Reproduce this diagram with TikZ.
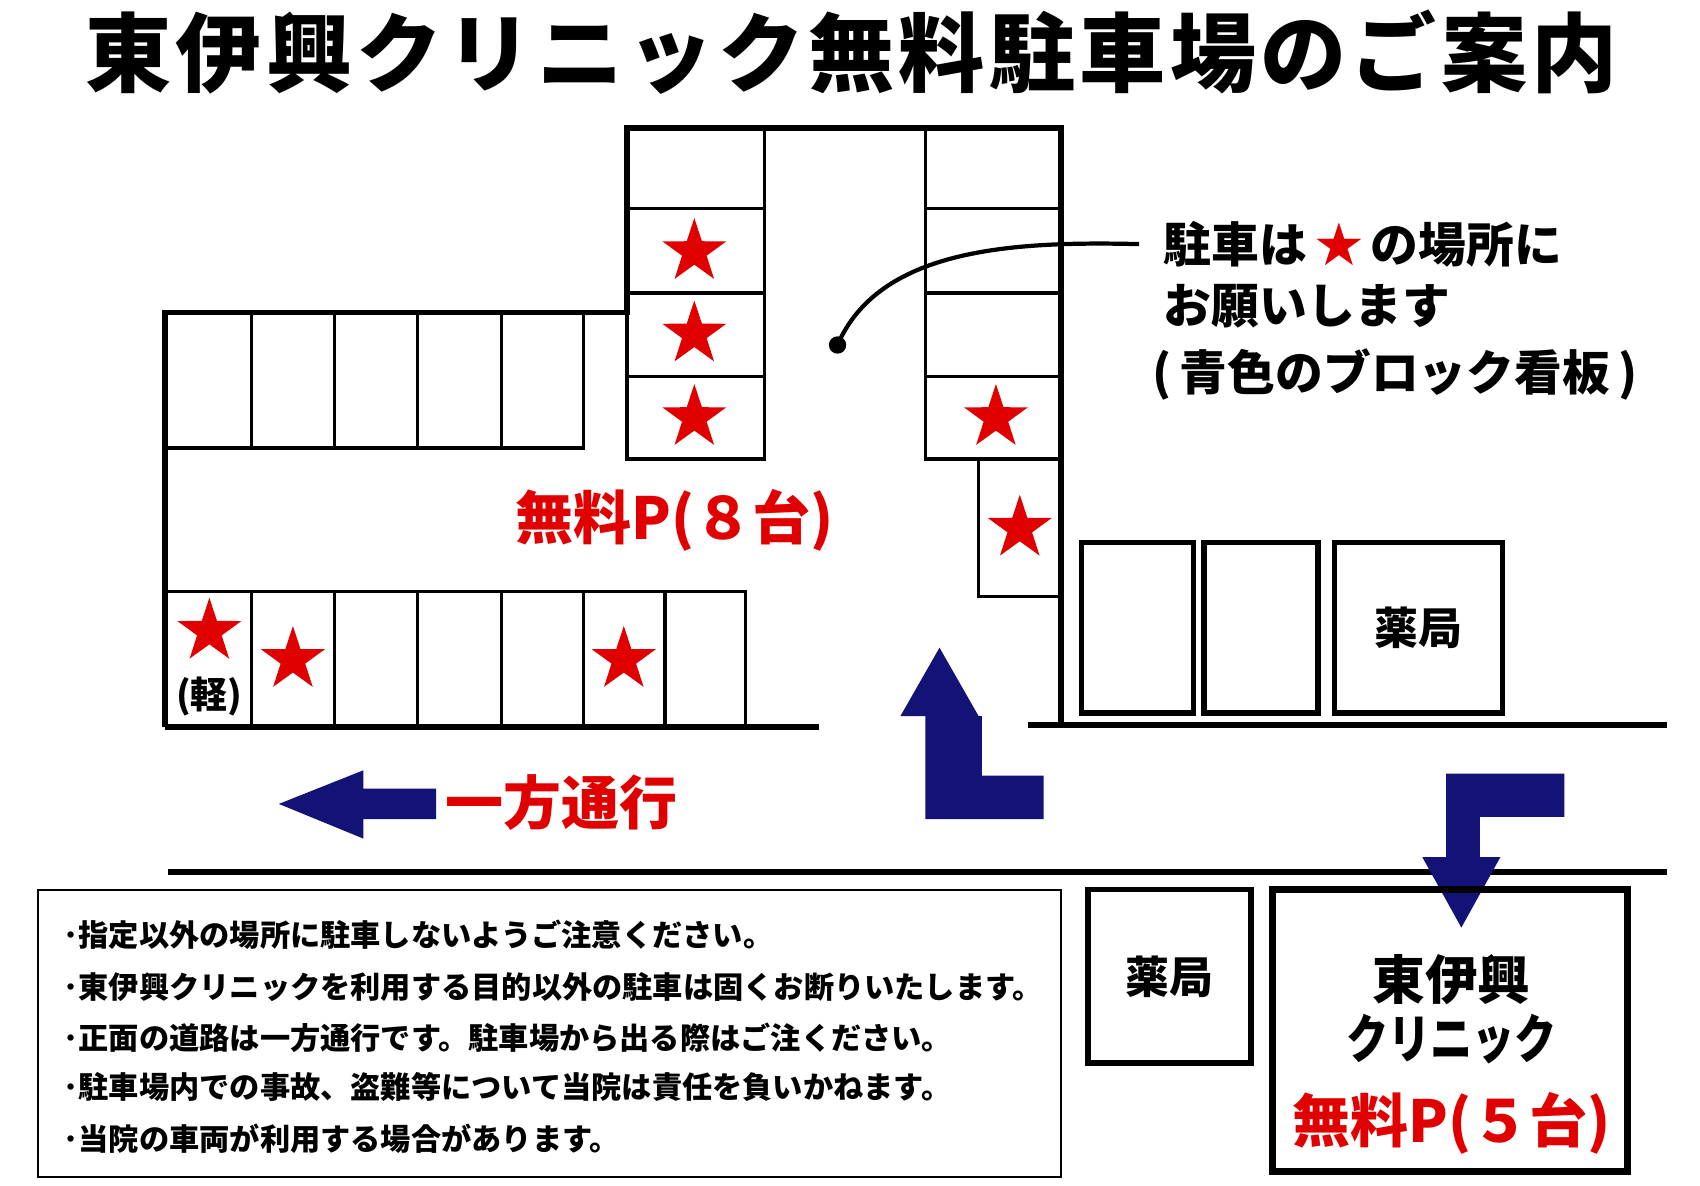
\documentclass[tikz,border=0pt]{standalone}
\usepackage{fontspec}
\setmainfont{Noto Sans CJK JP}
\newfontfamily\jp{Noto Sans CJK JP}
\newfontfamily\jpwide{Noto Sans CJK JP}[LetterSpace=5]
\usetikzlibrary{shapes.geometric}
\definecolor{navy}{HTML}{131277}
\definecolor{rd}{HTML}{E00000}
\tikzset{
 thick line/.style={line width=1.6pt},
 thin line/.style={line width=0.9pt},
 redstar/.style={star,star points=5,star point ratio=2.6,fill=rd,inner sep=0pt,minimum size=62*0.1085mm},
 arrowfill/.style={fill=navy},
 lbl/.style={font=\jp\bfseries\fontsize{13.6}{16}\selectfont,anchor=west,inner sep=0pt},
 note/.style={font=\jp\bfseries\fontsize{8.6}{10}\selectfont,anchor=west,inner sep=0pt},
 free/.style={font=\jp\bfseries\fontsize{16.5}{18}\selectfont,text=rd,inner sep=0pt},
}
\begin{document}
\begin{tikzpicture}[x=0.1085mm,y=-0.1085mm]
\useasboundingbox (0,0) rectangle (1567,1093);
\node[font=\jpwide\bfseries\fontsize{24.5}{26}\selectfont] (title) at (785,48) {東伊興クリニック無料駐車場のご案内};
% outline
\draw[thick line] (152,670) -- (152,288) -- (578,288) -- (578,118) -- (978,118) -- (978,668);
\draw[thick line] (152,670) -- (755,670);
% top-left column
\draw[thin line] (705,118) -- (705,423) -- (578,423) -- (578,288);
\foreach \y in {192,270,347} \draw[thin line] (578,\y) -- (705,\y);
% right column
\draw[thin line] (853,118) -- (853,423) -- (978,423);
\foreach \y in {192,270,347} \draw[thin line] (853,\y) -- (978,\y);
\draw[thin line] (902,423) -- (902,550) -- (978,550);
% top row
\draw[thin line] (152,413) -- (538,413) -- (538,288);
\foreach \x in {232,308,385,462} \draw[thin line] (\x,288) -- (\x,413);
% bottom row
\draw[thin line] (152,545) -- (687,545) -- (687,670);
\foreach \x in {232,308,385,462,538,613} \draw[thin line] (\x,545) -- (\x,670);
% stars
\foreach \p/\n in {{(640,232)}/s1,{(640,308)}/s2,{(640,385)}/s3,{(918,385)}/s4,{(940,487)}/s5,{(193,582)}/s6,{(270,608)}/s7,{(575,608)}/s8}
  \node[redstar] (\n) at \p {};
\node[font=\jp\bfseries\fontsize{10.5}{12}\selectfont,inner sep=0pt] (kei) at (193,642) {(軽)};
\node[free] (free8) at (622,480) {無料P(８台)};
% leader
\fill (772,318) circle (8) coordinate (dot);
\coordinate (lend) at (1050,225);
\draw[line width=1.2pt] (dot) .. controls (810,230) and (930,222) .. (lend);
\node[lbl] (l1) at (1072,225) {駐車は\,\textcolor{rd}{★}\,の場所に};
\node[lbl] (l2) at (1072,282) {お願いします};
\node[lbl] (l3) at (1062,345) {(\,青色のブロック看板\,)};
% pharmacy stalls
\draw[thick line] (997,500) rectangle (1100,657);
\draw[thick line] (1110,500) rectangle (1215,657);
\draw[thick line] (1230,500) rectangle (1385,657) node[midway,font=\jp\bfseries\fontsize{12.5}{14}\selectfont] (ph1) {薬局};
\draw[thick line] (948,668) -- (1537,668);
% up arrow
\fill[arrowfill] (853,755) -- (962,755) -- (962,715) -- (905,715) -- (905,660) -- (902,660) -- (866,597) -- (830,660) -- (853,660) -- cycle;
% left arrow
\fill[arrowfill] (402,727) -- (335,727) -- (335,710) -- (257,741) -- (335,773) -- (335,755) -- (402,755) -- cycle;
\node[free,anchor=west] (oneway) at (410,740) {一方通行};
% road line
\draw[thick line] (155,804) -- (1537,804);
% down arrow
\fill[arrowfill] (1442,713) -- (1333,713) -- (1333,790) -- (1311,790) -- (1347,855) -- (1383,790) -- (1364,790) -- (1364,753) -- (1442,753) -- cycle;
% notes
\draw[line width=0.6pt] (35,820) rectangle (978,1085);
\node[note] (n1) at (58,862) {･指定以外の場所に駐車しないようご注意ください。};
\node[note] (n2) at (58,910) {･東伊興クリニックを利用する目的以外の駐車は固くお断りいたします。};
\node[note] (n3) at (58,957) {･正面の道路は一方通行です。駐車場から出る際はご注ください。};
\node[note] (n4) at (58,1002) {･駐車場内での事故、盗難等について当院は責任を負いかねます。};
\node[note] (n5) at (58,1050) {･当院の車両が利用する場合があります。};
% pharmacy 2
\draw[thick line] (1003,820) rectangle (1153,980);
\node[font=\jp\bfseries\fontsize{12.5}{14}\selectfont] (ph2) at (1078,900) {薬局};
% clinic
\draw[line width=2pt] (1173,820) rectangle (1500,1080);
\node[font=\jp\bfseries\fontsize{15}{17}\selectfont] (c1) at (1338,903) {東伊興};
\node[font=\jp\bfseries\fontsize{15}{17}\selectfont,xscale=0.8] (c2) at (1338,958) {クリニック};
\node[free] (free5) at (1338,1035) {無料P(５台)};
\end{tikzpicture}
\end{document}
